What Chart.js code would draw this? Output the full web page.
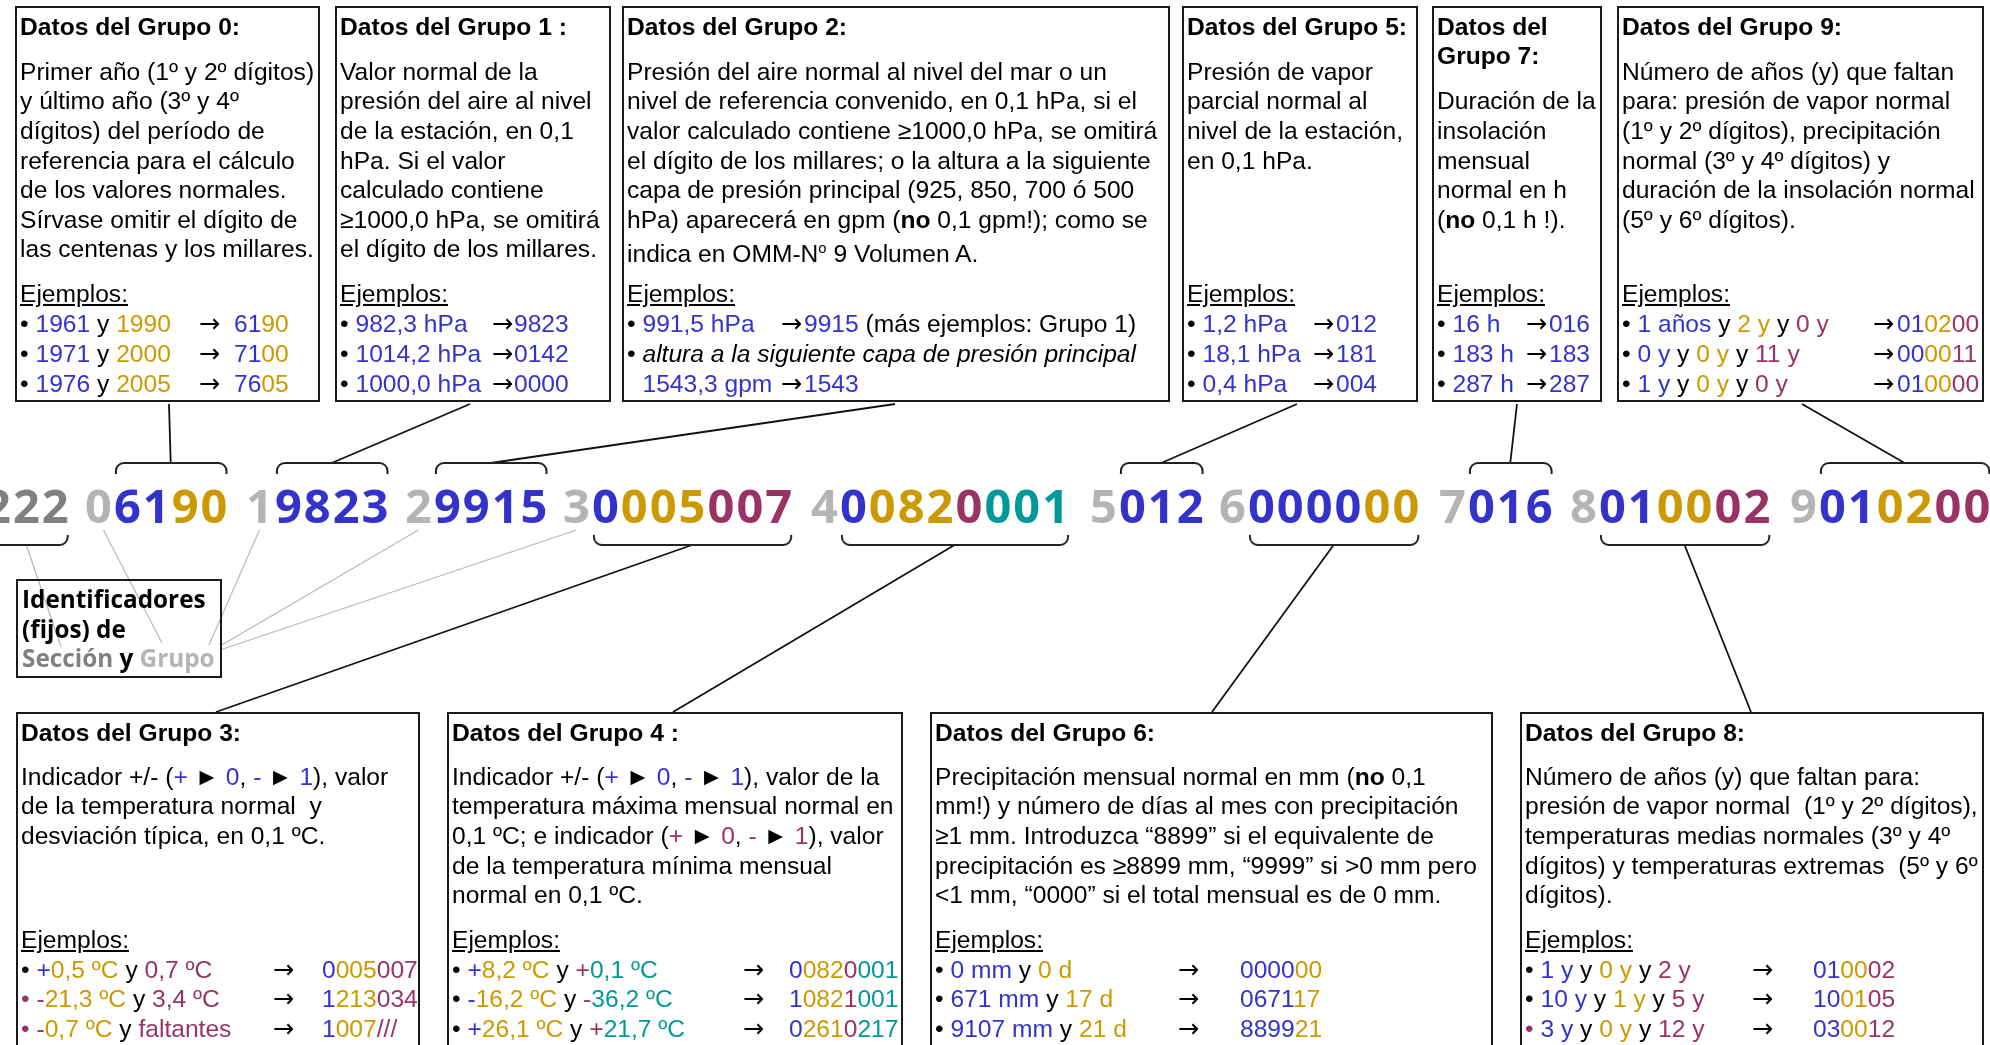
<!DOCTYPE html>
<html><head><meta charset="utf-8">
<script src="https://cdn.jsdelivr.net/npm/chart.js@4.4.0/dist/chart.umd.min.js"></script>
<style>
html,body{margin:0;padding:0;background:#fff;overflow:hidden;}
#wrap{position:relative;width:1990px;height:1045px;overflow:hidden;background:#fff;}
#c{position:absolute;left:0;top:0;}
.box{position:absolute;border:2px solid #1a1a1a;box-sizing:border-box;font-family:"Liberation Sans",Arial,sans-serif;font-size:24.6px;color:#000;background:transparent;}
.ln{position:absolute;left:3px;white-space:nowrap;line-height:29.6px;}
.ttl{font-weight:bold;}
.ej{text-decoration:underline;}
.ar,.vl{position:absolute;top:0;white-space:nowrap;}
.ar{font-family:"DejaVu Sans",sans-serif;font-size:25.5px;}
.B{color:#3333cc}.G{color:#cc9900}.P{color:#993366}.T{color:#009999}
.sup{font-size:60%;vertical-align:0.6em;}
#ident{position:absolute;left:16px;top:579px;width:206px;height:99px;border:2px solid #1a1a1a;box-sizing:border-box;font-family:"Open Sans","Liberation Sans",sans-serif;font-weight:700;font-size:24.3px;}
#ident div{position:absolute;left:4px;white-space:nowrap;line-height:30px;}
</style></head>
<body><div id="wrap"><canvas id="c" width="1990" height="1045"></canvas></div>
<script>
// ---- Code row data ----
const codeIndicators = ['', '0', '1', '2', '3', '4', '5', '6', '7', '8', '9'];
const codeValues = ['222', '6190', '9823', '9915', '0005007', '00820001', '012', '000000', '016', '010002', '010200'];
const codeColors = ['SSS', 'BBGG', 'BBBB', 'BBBB', 'BGGGPPP', 'BGGGPTTT', 'BBB', 'BBBBGG', 'BBB', 'BBGGPP', 'BBGGPP'];
const bracketSide = ['bottom', 'top', 'top', 'top', 'bottom', 'bottom', 'top', 'bottom', 'top', 'bottom', 'top'];
// layout (start of each code group along the row)
const codeX = [-17, 84, 245, 404, 562, 810, 1089, 1218, 1438, 1569, 1789];
const boxAnchors = [null, [169, 404], [470, 404], [895, 404], [216, 712], [673, 712], [1297, 404], [1212, 712], [1517, 404], [1751, 712], [1802, 404]];
const identTargets = [[61, 647], [162, 643], [209, 645], [220, 646], [220, 650]];

const COLORS = {S:'#808080', I:'#b4b4b4', B:'#3333cc', G:'#cc9900', P:'#993366', T:'#009999'};
const CODE_FONT = '700 47px "Open Sans", "Liberation Sans", sans-serif';
const DIGIT_W = 28.9;
const CODE_BASE = 523, BR_TOP = 463, BR_TOP_END = 474, BR_BOT = 545, BR_BOT_END = 535, BR_R = 8;

// ---- Text boxes ----
const S = (c, t) => '<span class="' + c + '">' + t + '</span>';
const ARW = ' \u25BA ';
const TOPROW = {title:3.7, body:48.7, ej:270.7, ex:300.7, step:30};
const BOTROW = {title:3.7, body:47.7, ej:210.7, ex:240.7, step:29.5};

const boxes = [
 {x:15, y:6, w:305, h:396, row:TOPROW, title:['Datos del Grupo 0:'], start:0,
  body:['Primer año (1º y 2º dígitos)','y último año (3º y 4º','dígitos) del período de','referencia para el cálculo','de los valores normales.','Sírvase omitir el dígito de','las centenas y los millares.'],
  ax:199, vx:234,
  ex:[['• '+S('B','1961')+' y '+S('G','1990'), S('B','61')+S('G','90')],
      ['• '+S('B','1971')+' y '+S('G','2000'), S('B','71')+S('G','00')],
      ['• '+S('B','1976')+' y '+S('G','2005'), S('B','76')+S('G','05')]]},
 {x:335, y:6, w:276, h:396, row:TOPROW, title:['Datos del Grupo 1 :'], start:0,
  body:['Valor normal de la','presión del aire al nivel','de la estación, en 0,1','hPa. Si el valor','calculado contiene','≥1000,0 hPa, se omitirá','el dígito de los millares.'],
  ax:492, vx:514,
  ex:[['• '+S('B','982,3 hPa'), S('B','9823')],
      ['• '+S('B','1014,2 hPa'), S('B','0142')],
      ['• '+S('B','1000,0 hPa'), S('B','0000')]]},
 {x:622, y:6, w:548, h:396, row:TOPROW, title:['Datos del Grupo 2:'], start:0,
  body:['Presión del aire normal al nivel del mar o un','nivel de referencia convenido, en 0,1 hPa, si el','valor calculado contiene ≥1000,0 hPa, se omitirá','el dígito de los millares; o la altura a la siguiente','capa de presión principal (925, 850, 700 ó 500','hPa) aparecerá en gpm (<b>no</b> 0,1 gpm!); como se','indica en OMM-N<span class="sup">o</span> 9 Volumen A.'],
  ax:781, vx:804,
  ex:[['• '+S('B','991,5 hPa'), S('B','9915')+' (más ejemplos: Grupo 1)'],
      ['• <i>altura a la siguiente capa de presión principal</i>', null],
      ['<span style="visibility:hidden">• </span>'+S('B','1543,3 gpm'), S('B','1543')]]},
 {x:1182, y:6, w:236, h:396, row:TOPROW, title:['Datos del Grupo 5:'], start:0,
  body:['Presión de vapor','parcial normal al','nivel de la estación,','en 0,1 hPa.'],
  ax:1313, vx:1336,
  ex:[['• '+S('B','1,2 hPa'), S('B','012')],
      ['• '+S('B','18,1 hPa'), S('B','181')],
      ['• '+S('B','0,4 hPa'), S('B','004')]]},
 {x:1432, y:6, w:170, h:396, row:TOPROW, title:['Datos del','Grupo 7:'], start:1,
  body:['Duración de la','insolación','mensual','normal en h','(<b>no</b> 0,1 h !).'],
  ax:1526, vx:1549,
  ex:[['• '+S('B','16 h'), S('B','016')],
      ['• '+S('B','183 h'), S('B','183')],
      ['• '+S('B','287 h'), S('B','287')]]},
 {x:1617, y:6, w:367, h:396, row:TOPROW, title:['Datos del Grupo 9:'], start:0,
  body:['Número de años (y) que faltan','para: presión de vapor normal','(1º y 2º dígitos), precipitación','normal (3º y 4º dígitos) y','duración de la insolación normal','(5º y 6º dígitos).'],
  ax:1873, vx:1897,
  ex:[['• '+S('B','1 años')+' y '+S('G','2 y')+' y '+S('P','0 y'), S('B','01')+S('G','02')+S('P','00')],
      ['• '+S('B','0 y')+' y '+S('G','0 y')+' y '+S('P','11 y'), S('B','00')+S('G','00')+S('P','11')],
      ['• '+S('B','1 y')+' y '+S('G','0 y')+' y '+S('P','0 y'), S('B','01')+S('G','00')+S('P','00')]]},
 {x:16, y:712, w:404, h:360, row:BOTROW, title:['Datos del Grupo 3:'], start:0,
  body:['Indicador +/- ('+S('B','+')+ARW+S('B','0')+', '+S('B','-')+ARW+S('B','1')+'), valor','de la temperatura normal&nbsp; y','desviación típica, en 0,1 ºC.'],
  ax:273, vx:322,
  ex:[['• '+S('B','+')+S('G','0,5 ºC')+' y '+S('P','0,7 ºC'), S('B','0')+S('G','005')+S('P','007')],
      [S('P','•')+' '+S('P','-')+S('G','21,3 ºC')+' y '+S('P','3,4 ºC'), S('B','1')+S('G','213')+S('P','034')],
      [S('P','•')+' '+S('P','-')+S('G','0,7 ºC')+' y '+S('P','faltantes'), S('B','1')+S('G','007')+S('P','///')]]},
 {x:447, y:712, w:456, h:360, row:BOTROW, title:['Datos del Grupo 4 :'], start:0,
  body:['Indicador +/- ('+S('B','+')+ARW+S('B','0')+', '+S('B','-')+ARW+S('B','1')+'), valor de la','temperatura máxima mensual normal en','0,1 ºC; e indicador ('+S('P','+')+ARW+S('P','0')+', '+S('P','-')+ARW+S('P','1')+'), valor','de la temperatura mínima mensual','normal en 0,1 ºC.'],
  ax:743, vx:789,
  ex:[['• '+S('B','+')+S('G','8,2 ºC')+' y '+S('P','+')+S('T','0,1 ºC'), S('B','0')+S('G','082')+S('P','0')+S('T','001')],
      ['• '+S('B','-')+S('G','16,2 ºC')+' y '+S('P','-')+S('T','36,2 ºC'), S('B','1')+S('G','082')+S('P','1')+S('T','001')],
      ['• '+S('B','+')+S('G','26,1 ºC')+' y '+S('P','+')+S('T','21,7 ºC'), S('B','0')+S('G','261')+S('P','0')+S('T','217')]]},
 {x:930, y:712, w:563, h:360, row:BOTROW, title:['Datos del Grupo 6:'], start:0,
  body:['Precipitación mensual normal en mm (<b>no</b> 0,1','mm!) y número de días al mes con precipitación','≥1 mm. Introduzca “8899” si el equivalente de','precipitación es ≥8899 mm, “9999” si &gt;0 mm pero','&lt;1 mm, “0000” si el total mensual es de 0 mm.'],
  ax:1178, vx:1240,
  ex:[['• '+S('B','0 mm')+' y '+S('G','0 d'), S('B','0000')+S('G','00')],
      ['• '+S('B','671 mm')+' y '+S('G','17 d'), S('B','0671')+S('G','17')],
      ['• '+S('B','9107 mm')+' y '+S('G','21 d'), S('B','8899')+S('G','21')]]},
 {x:1520, y:712, w:464, h:360, row:BOTROW, title:['Datos del Grupo 8:'], start:0,
  body:['Número de años (y) que faltan para:','presión de vapor normal&nbsp; (1º y 2º dígitos),','temperaturas medias normales (3º y 4º','dígitos) y temperaturas extremas&nbsp; (5º y 6º','dígitos).'],
  ax:1752, vx:1813,
  ex:[['• '+S('B','1 y')+' y '+S('G','0 y')+' y '+S('P','2 y'), S('B','01')+S('G','00')+S('P','02')],
      ['• '+S('B','10 y')+' y '+S('G','1 y')+' y '+S('P','5 y'), S('B','10')+S('G','01')+S('P','05')],
      [S('P','•')+' '+S('B','3 y')+' y '+S('G','0 y')+' y '+S('P','12 y'), S('B','03')+S('G','00')+S('P','12')]]}
];

const wrap = document.getElementById('wrap');
function addLine(parent, top, html, cls){
  const d = document.createElement('div');
  d.className = 'ln' + (cls ? ' ' + cls : '');
  d.style.top = top + 'px';
  d.innerHTML = html;
  parent.appendChild(d);
  return d;
}
boxes.forEach(b => {
  const el = document.createElement('div');
  el.className = 'box';
  Object.assign(el.style, {left:b.x+'px', top:b.y+'px', width:b.w+'px', height:b.h+'px'});
  b.title.forEach((t, i) => addLine(el, b.row.title + i*29.6, t, 'ttl'));
  b.body.forEach((t, i) => addLine(el, b.row.body + (i + b.start)*29.6, t));
  addLine(el, b.row.ej, 'Ejemplos:', 'ej');
  b.ex.forEach((e, i) => {
    const d = addLine(el, b.row.ex + i*b.row.step, e[0]);
    if (e[1] !== null) {
      const a = document.createElement('span'); a.className = 'ar';
      a.style.left = (b.ax - b.x - 5) + 'px'; a.textContent = '\u2192'; d.appendChild(a);
      const v = document.createElement('span'); v.className = 'vl';
      v.style.left = (b.vx - b.x - 5) + 'px'; v.innerHTML = e[1]; d.appendChild(v);
    }
  });
  wrap.appendChild(el);
});
const ident = document.createElement('div');
ident.id = 'ident';
ident.innerHTML = '<div style="top:2.7px">Identificadores</div><div style="top:32.7px">(fijos) de</div><div style="top:61.7px"><span style="color:#808080">Sección</span> y <span style="color:#b4b4b4">Grupo</span></div>';
wrap.appendChild(ident);

// ---- code row geometry (fixed digit cells) ----
function valueSpan(i){
  const s = codeX[i] + (codeIndicators[i] ? DIGIT_W : 0);
  return [s, s + codeValues[i].length * DIGIT_W];
}
function indicatorCenter(i){
  if (!codeIndicators[i]) { const v = valueSpan(i); return (v[0]+v[1])/2; }
  return codeX[i] + DIGIT_W/2;
}

const datasets = [];
for (let i = 0; i < codeValues.length; i++) {
  if (!boxAnchors[i]) continue;
  const v = valueSpan(i), cx = (v[0]+v[1])/2;
  const y0 = bracketSide[i] === 'top' ? BR_TOP : BR_BOT;
  datasets.push({data:[{x:cx, y:y0}, {x:boxAnchors[i][0], y:boxAnchors[i][1]}],
    showLine:true, borderColor:'#111', borderWidth:1.8, pointRadius:0, fill:false});
}
identTargets.forEach((t, i) => {
  const sx = indicatorCenter(i) + (i === 1 ? 5 : 0), sy = i === 0 ? BR_BOT : 530;
  datasets.push({data:[{x:sx, y:sy}, {x:t[0], y:t[1]}],
    showLine:true, borderColor:'#b8b8b8', borderWidth:1.2, pointRadius:0, fill:false});
});

const codePlugin = {
  id:'codeRow',
  afterDatasetsDraw(chart){
    const ctx = chart.ctx, xs = chart.scales.x, ys = chart.scales.y;
    ctx.save();
    ctx.font = CODE_FONT;
    ctx.textBaseline = 'alphabetic';
    const base = ys.getPixelForValue(CODE_BASE);
    const cell = (ch, color, left) => {
      ctx.fillStyle = color;
      const w = ctx.measureText(ch).width;
      ctx.fillText(ch, xs.getPixelForValue(left + (DIGIT_W - w)/2), base);
    };
    for (let i = 0; i < codeValues.length; i++) {
      let left = codeX[i];
      if (codeIndicators[i]) { cell(codeIndicators[i], COLORS.I, left); left += DIGIT_W; }
      for (let k = 0; k < codeValues[i].length; k++) {
        cell(codeValues[i][k], COLORS[codeColors[i][k]], left);
        left += DIGIT_W;
      }
      // bracket
      const v = valueSpan(i);
      const x0 = xs.getPixelForValue(v[0] + 3), x1 = xs.getPixelForValue(v[1] - 2);
      ctx.strokeStyle = '#222'; ctx.lineWidth = 2;
      ctx.beginPath();
      if (bracketSide[i] === 'top') {
        const yt = ys.getPixelForValue(BR_TOP), ye = ys.getPixelForValue(BR_TOP_END);
        ctx.moveTo(x0, ye); ctx.arcTo(x0, yt, x0 + BR_R, yt, BR_R);
        ctx.lineTo(x1 - BR_R, yt); ctx.arcTo(x1, yt, x1, ye, BR_R); ctx.lineTo(x1, ye);
      } else {
        const yb = ys.getPixelForValue(BR_BOT), ye = ys.getPixelForValue(BR_BOT_END);
        ctx.moveTo(x0, ye); ctx.arcTo(x0, yb, x0 + BR_R, yb, BR_R);
        ctx.lineTo(x1 - BR_R, yb); ctx.arcTo(x1, yb, x1, ye, BR_R); ctx.lineTo(x1, ye);
      }
      ctx.stroke();
    }
    ctx.restore();
  }
};

function draw(){
  new Chart(document.getElementById('c').getContext('2d'), {
    type:'scatter',
    data:{datasets},
    options:{
      responsive:false, animation:false, events:[],
      layout:{padding:0},
      plugins:{legend:{display:false}, tooltip:{enabled:false}, title:{display:false}},
      scales:{
        x:{type:'linear', min:0, max:1990, display:false},
        y:{type:'linear', min:0, max:1045, reverse:true, display:false}
      },
      elements:{line:{tension:0}}
    },
    plugins:[codePlugin]
  });
}
if (document.fonts && document.fonts.load) {
  document.fonts.load(CODE_FONT, '0123456789').then(draw, draw);
} else { draw(); }
</script>
</body></html>
